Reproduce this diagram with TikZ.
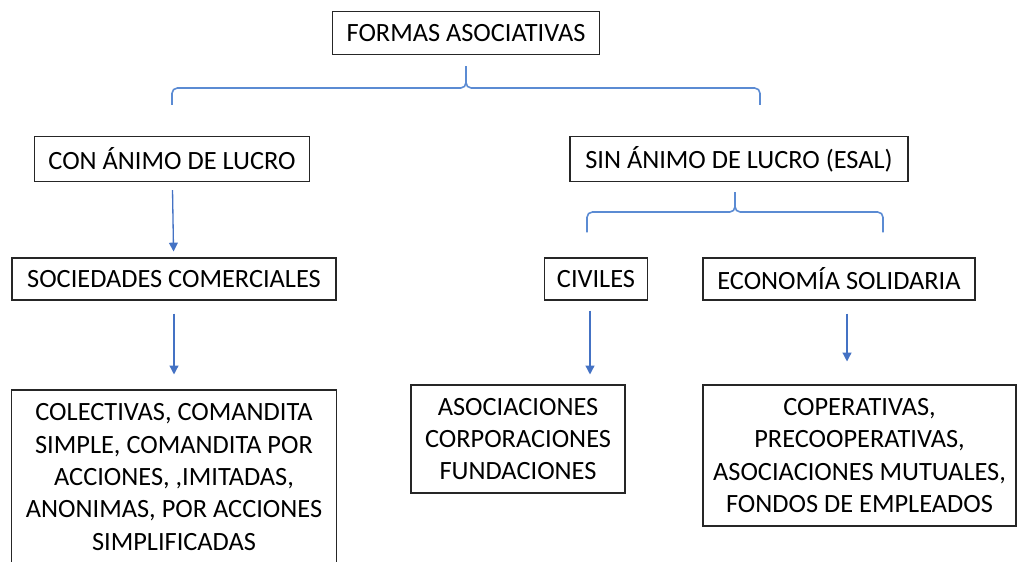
\documentclass[tikz,border=0pt]{standalone}
\usepackage{fontspec}
\setmainfont{Carlito}
\usepackage{tikz}
\usetikzlibrary{arrows.meta}
\definecolor{officeblue}{HTML}{4472C4}
\definecolor{braceblue}{HTML}{5B8BD3}
\tikzstyle{box} = [rectangle, draw=black!85, line width=0.6pt, fill=white,
  align=center, inner sep=2pt, font=\fontsize{15}{18.4}\selectfont]
\tikzstyle{line} = [draw=officeblue, line width=0.75pt,
  -{Triangle[width=5pt,length=5pt]}]
\tikzstyle{brace} = [draw=braceblue, line width=0.9pt, rounded corners=3pt]

\begin{document}
\begin{tikzpicture}
    \useasboundingbox (0,0) rectangle (20.36,-11.22);
    \node[box, minimum width=5.34cm, minimum height=0.86cm] (formas) at (9.32,-0.66) {FORMAS ASOCIATIVAS};

    \node[box, below of=formas, node distance=2.52cm, xshift=-5.88cm,
      minimum width=5.5cm, minimum height=0.9cm] (conlucro) {CON ÁNIMO DE LUCRO};
    \node[box, right of=conlucro, node distance=11.34cm,
      minimum width=6.76cm, minimum height=0.9cm] (sinlucro) {SIN ÁNIMO DE LUCRO (ESAL)};

    \node[box, below of=conlucro, node distance=2.4cm, xshift=0.04cm,
      minimum width=6.48cm, minimum height=0.84cm] (sociedades) {SOCIEDADES COMERCIALES};
    \node[box, below of=sinlucro, node distance=2.4cm, xshift=-2.86cm,
      minimum width=2.06cm, minimum height=0.84cm] (civiles) {CIVILES};
    \node[box, right of=civiles, node distance=4.86cm,
      minimum width=5.44cm, minimum height=0.84cm] (solidaria) {ECONOMÍA SOLIDARIA};

    \node[box, below of=sociedades, node distance=3.96cm,
      minimum width=6.5cm, minimum height=3.48cm] (tiposcom)
      {COLECTIVAS, COMANDITA\\ SIMPLE, COMANDITA POR\\ ACCIONES, ,IMITADAS,\\
       ANONIMAS, POR ACCIONES\\ SIMPLIFICADAS};
    \node[box, below of=civiles, node distance=3.2cm, xshift=-1.56cm,
      minimum width=4.28cm, minimum height=2.16cm] (tiposciv)
      {ASOCIACIONES\\ CORPORACIONES\\ FUNDACIONES};
    \node[box, below of=solidaria, node distance=3.53cm, xshift=0.41cm,
      minimum width=6.26cm, minimum height=2.82cm] (tipossol)
      {COPERATIVAS,\\ PRECOOPERATIVAS,\\ ASOCIACIONES MUTUALES,\\ FONDOS DE EMPLEADOS};

    % braces
    \coordinate (tip1) at ([yshift=-0.22cm]formas.south);
    \coordinate (mid1) at ([yshift=-0.66cm]formas.south);
    \coordinate (left1) at ([yshift=0.62cm]conlucro.north);
    \coordinate (right1) at ([xshift=0.42cm, yshift=0.62cm]sinlucro.north);
    \path[brace] (left1) |- (mid1) -- (tip1);
    \path[brace] (right1) |- (mid1) -- (tip1);

    \coordinate (tip2) at ([xshift=-0.08cm, yshift=-0.2cm]sinlucro.south);
    \coordinate (mid2) at ([xshift=-0.08cm, yshift=-0.6cm]sinlucro.south);
    \coordinate (left2) at ([xshift=-0.18cm, yshift=0.5cm]civiles.north);
    \coordinate (right2) at ([xshift=0.88cm, yshift=0.5cm]solidaria.north);
    \path[brace] (left2) |- (mid2) -- (tip2);
    \path[brace] (right2) |- (mid2) -- (tip2);

    \path[line, shorten <=0.16cm, shorten >=0.12cm] (conlucro) -- (sociedades);
    \path[line, shorten <=0.26cm, shorten >=0.3cm] (sociedades) -- (tiposcom);
    \path[line, shorten <=0.2cm, shorten >=0.2cm] ([xshift=-0.12cm]civiles.south)
      -- ([xshift=-0.12cm]civiles.south |- tiposciv.north);
    \path[line, shorten <=0.26cm, shorten >=0.46cm] ([xshift=0.16cm]solidaria.south)
      -- ([xshift=0.16cm]solidaria.south |- tipossol.north);
\end{tikzpicture}
\end{document}
